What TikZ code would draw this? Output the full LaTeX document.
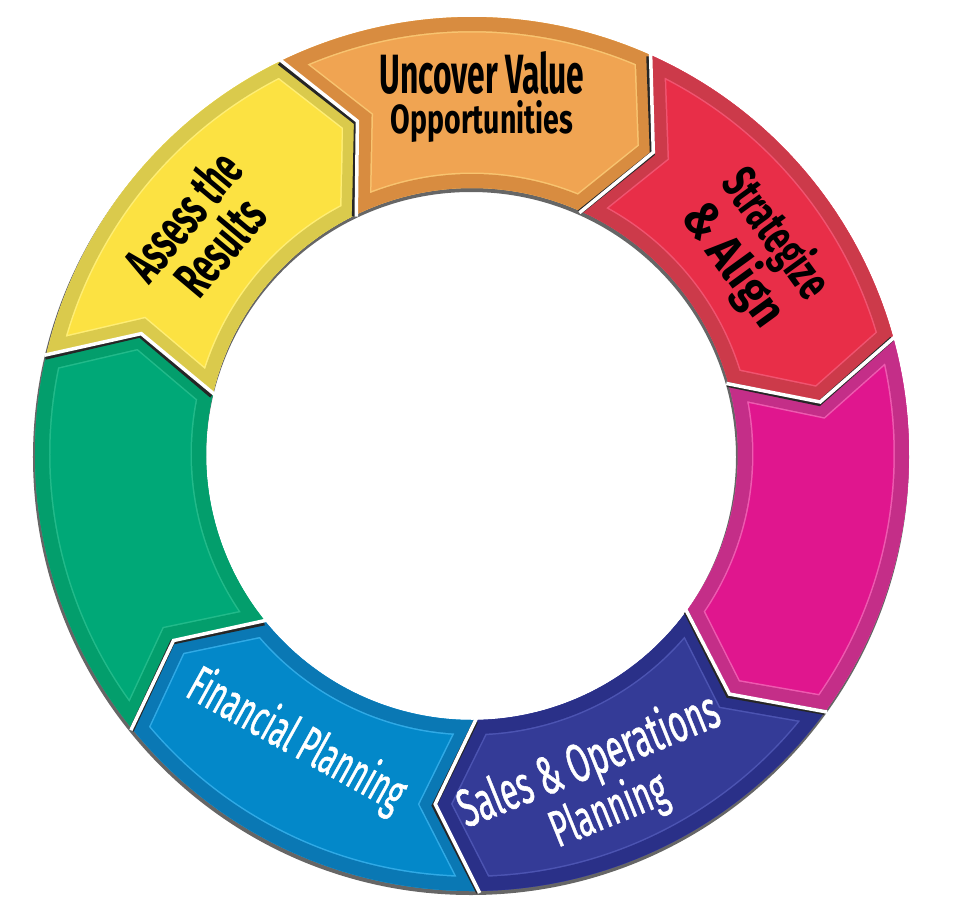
\documentclass[tikz,border=0pt]{standalone}
\usepackage{fontspec}
\setmainfont{Fira Sans}
\newfontfamily\whitefont[FakeBold=1.2]{Fira Sans}
\usepackage{graphicx}
\newcommand\fitline[3]{\resizebox{#1pt}{#2pt}{#3}}
\def\Rout{437}
\def\Rin{266}
\def\Rmid{352}
\definecolor{orM}{HTML}{F0A452}\definecolor{orD}{HTML}{D88C40}\definecolor{orL}{HTML}{F8C470}
\definecolor{rdM}{HTML}{E82E48}\definecolor{rdD}{HTML}{CC3A4A}\definecolor{rdL}{HTML}{F05470}
\definecolor{mgM}{HTML}{E0168E}\definecolor{mgD}{HTML}{C42E88}\definecolor{mgL}{HTML}{EE5AB0}
\definecolor{dbM}{HTML}{343B97}\definecolor{dbD}{HTML}{2A3088}\definecolor{dbL}{HTML}{4C54B2}
\definecolor{blM}{HTML}{0388C9}\definecolor{blD}{HTML}{0A78B4}\definecolor{blL}{HTML}{30AAE6}
\definecolor{grM}{HTML}{00A877}\definecolor{grD}{HTML}{039E6C}\definecolor{grL}{HTML}{22BA8A}
\definecolor{ylM}{HTML}{FCE242}\definecolor{ylD}{HTML}{DACA4C}\definecolor{ylL}{HTML}{FFEE74}
\tikzset{
  seg/.style 2 args={insert path={(#1:\Rout) arc[start angle=#1, end angle=#2, radius=\Rout]
     -- ({#2-7}:\Rmid) -- (#2:\Rin) arc[start angle=#2, end angle=#1, radius=\Rin]
     -- ({#1-7}:\Rmid) -- cycle}},
  blacktxt/.style={align=center, inner sep=0pt, text=black,
     font=\bfseries\fontsize{40}{48}\selectfont},
  whitetxt/.style={align=center, inner sep=0pt, text=white,
     font=\whitefont\fontsize{40}{45}\selectfont},
}
\newcommand\segment[5]{%
  \begin{scope}
    \clip[seg={#1}{#2}];
    \fill[#3] (0,0) circle[radius=450];
    \draw[#5, line width=31, seg={#1}{#2}];
    \draw[#4, line width=28, seg={#1}{#2}];
  \end{scope}}
\newcommand\gapline[1]{%
  \draw[black!85, line width=5, shift={(-1,-1.5)}] (#1:\Rout) -- ({#1-7}:\Rmid) -- (#1:\Rin);
  \draw[white, line width=3.5] (#1:{\Rout+2}) -- ({#1-7}:\Rmid) -- (#1:{\Rin-2});}
\begin{document}
\begin{tikzpicture}[x=1pt,y=1pt]
\useasboundingbox (-472,-446) rectangle (485,454);
% drop shadow of the ring
\fill[black!60, even odd rule] (-1,-3) circle[radius=438] (-1,-3) circle[radius=265];
% segments
\segment{116}{66}{orM}{orD}{orL}
\segment{66}{15.5}{rdM}{rdD}{rdL}
\segment{15.5}{-36}{mgM}{mgD}{mgL}
\segment{-36}{-89}{dbM}{dbD}{dbL}
\segment{-89}{-141}{blM}{blD}{blL}
\segment{-141}{-193}{grM}{grD}{grL}
\segment{167}{116}{ylM}{ylD}{ylL}
% gaps between segments
\gapline{116}
\gapline{66}
\gapline{15.5}
\gapline{-36}
\gapline{-89}
\gapline{-141}
\gapline{167}
% labels
\node[blacktxt, font=\bfseries\fontsize{40}{40}\selectfont] (uncover) at (10,357)
  {\fitline{205}{42}{Uncover Value}\\\fitline{182}{33}{Opportunities}};
\node[blacktxt, rotate=-54] (strategize) at (282,204)
  {\fitline{147}{40}{Strategize}\\\fitline{140}{40}{\& Align}};
\node[blacktxt, rotate=50] (assess) at (-271,223)
  {\fitline{149}{40}{Assess the}\\\fitline{109}{40}{Results}};
\node[whitetxt, rotate=-29] (financial) at (-176,-287)
  {\fitline{240}{40}{Financial Planning}};
\node[whitetxt, rotate=22] (sales) at (127,-332)
  {\fitline{277}{42}{Sales \& Operations}\\\fitline{122}{40}{Planning}};
\end{tikzpicture}
\end{document}
